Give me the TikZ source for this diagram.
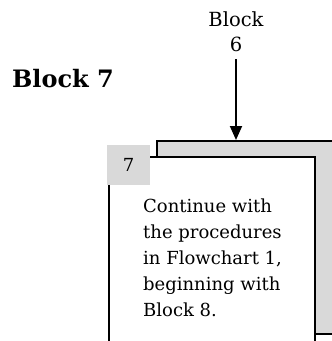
\documentclass[tikz,border=0pt]{standalone}
\usepackage{fontspec}
\setmainfont{DejaVu Serif}
\usetikzlibrary{arrows.meta,calc}
\definecolor{shade}{HTML}{D9D9D9}
\tikzset{
  frame/.style={draw=black, line width=1.8pt},
  bodytext/.style={font=\fontsize{18}{25.8}\selectfont, align=left, inner sep=0pt, anchor=north west},
}
\begin{document}
\begin{tikzpicture}[x=1pt,y=-1pt]
\useasboundingbox (0,0) rectangle (332,341);
\clip (0,0) rectangle (332,341);
% back (shadow) box
\node[frame, fill=shade, minimum width=208pt, minimum height=193pt, anchor=north west, inner sep=0pt] (shadow) at (156,140) {};
% front box
\node[frame, fill=white, minimum width=206pt, minimum height=200pt, anchor=north west, inner sep=0pt] (box) at (108,156) {};
% number tag
\node[fill=shade, minimum width=43pt, minimum height=40pt, anchor=north west, inner sep=0pt, font=\fontsize{18}{20}\selectfont] (num) at (107,145) {7};
% title
\node[font=\bfseries\fontsize{24}{28}\selectfont, anchor=west, inner sep=0pt] (title) at (12,79) {Block 7};
% source
\node[font=\fontsize{19.5}{25}\selectfont, align=center, inner sep=0pt, anchor=north] (src) at (236,11) {Block\\6};
\draw[line width=1.8pt, -{Triangle[length=14pt,width=12pt]}] ($(src.south)+(0,8)$) -- (src |- shadow.north);
% body text
\node[bodytext] (body) at (143,199) {Continue with\\the procedures\\in Flowchart 1,\\beginning with\\Block 8.};
\end{tikzpicture}
\end{document}
